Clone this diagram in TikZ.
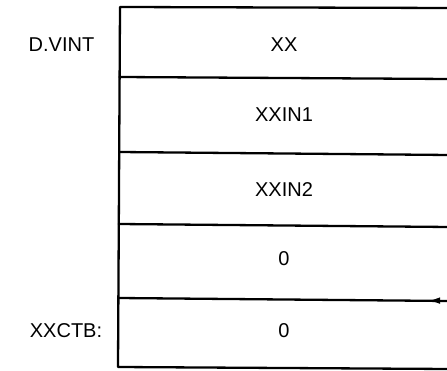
\documentclass[tikz,border=0pt]{standalone}
\usepackage{fontspec}
\setmainfont{Liberation Sans}
\usetikzlibrary{arrows.meta}
\begin{document}
\begin{tikzpicture}[x=1pt,y=-1pt,
  lbl/.style={font=\fontsize{20}{23}\selectfont, inner sep=0pt, anchor=center},
  boxline/.style={line width=2.3pt, line cap=round, line join=round}]
\useasboundingbox (0,0) rectangle (447,371);
% outline corners
\coordinate (tl) at (120,7);
\coordinate (bl) at (118,367);
\coordinate (tr) at (449,8);
\coordinate (br) at (449,369);
\draw[boxline] (tr) -- (tl) -- (bl) -- (br);
\coordinate (l1) at (119.6,77);
\coordinate (r1) at (449,79);
\coordinate (l2) at (119.2,152);
\coordinate (r2) at (449,155);
\coordinate (l3) at (118.8,224);
\coordinate (r3) at (449,227);
\coordinate (l4) at (118.4,298);
\coordinate (r4) at (449,301);
\draw[boxline] (l1) -- (r1);
\draw[boxline] (l2) -- (r2);
\draw[boxline] (l3) -- (r3);
\draw[boxline] (l4) -- (r4);
\fill (431,300.6) -- (440,297.4) -- (440,303.8) -- cycle;
% cell texts
\node[lbl] (c1) at (284,45) {XX};
\node[lbl] (c2) at (284,115) {XXIN1};
\node[lbl] (c3) at (284,190) {XXIN2};
\node[lbl] (c4) at (284,259) {0};
\node[lbl] (c5) at (284,331) {0};
% side labels
\node[lbl] (dvint) at (61.5,45) {D.VINT};
\node[lbl] (xxctb) at (66,331) {XXCTB:};
\end{tikzpicture}
\end{document}
